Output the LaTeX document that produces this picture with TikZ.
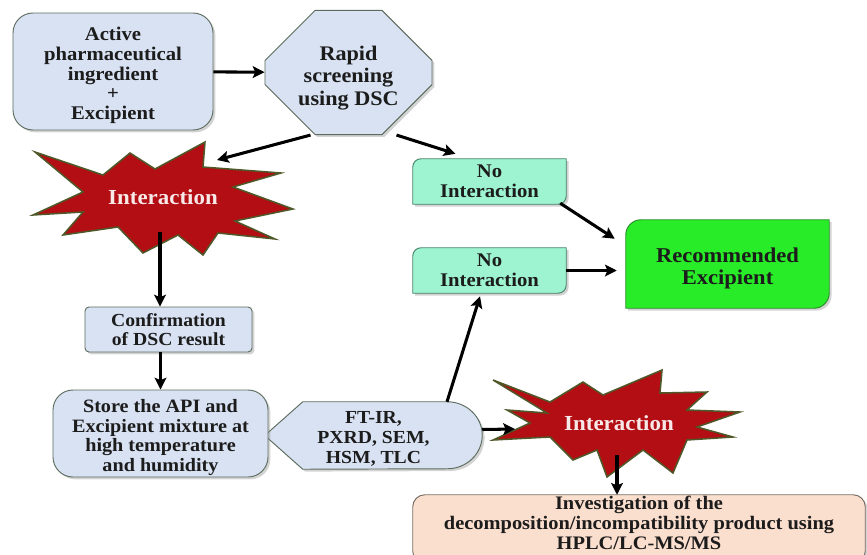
\documentclass[tikz,border=0pt]{standalone}
\usepackage{fontspec}
\setmainfont{Liberation Serif}[FakeStretch=1.07]
\usetikzlibrary{shapes.misc,shadows,backgrounds,arrows.meta,calc}

\definecolor{boxblue}{RGB}{216,226,242}
\definecolor{boxline}{RGB}{92,108,94}
\definecolor{aqua}{RGB}{158,243,208}
\definecolor{aqualine}{RGB}{70,130,105}
\definecolor{brightgreen}{RGB}{40,236,40}
\definecolor{greenline}{RGB}{40,140,40}
\definecolor{peach}{RGB}{250,222,206}
\definecolor{peachline}{RGB}{120,110,100}
\definecolor{burstred}{RGB}{178,14,20}
\definecolor{burstline}{RGB}{78,88,40}
\definecolor{bursttext}{RGB}{248,232,232}
\definecolor{inktext}{RGB}{28,28,28}

\newcommand\fsz[2]{\bfseries\fontsize{#1}{#2}\selectfont}
\newcommand\topstrut[1]{\rule{0pt}{#1}}

% box with two rounded corners (top left, bottom right)
\newcommand\cornerbox[3]{%
	\begin{pgfonlayer}{background}
		\filldraw[#3] ([yshift=-#2]#1.north west) arc[start angle=180,end angle=90,radius=#2]
			-- (#1.north east) -- ([yshift=#2]#1.south east)
			arc[start angle=0,end angle=-90,radius=#2] -- (#1.south west) -- cycle;
	\end{pgfonlayer}}

\tikzset{
	shade/.style={drop shadow={shadow xshift=2pt,shadow yshift=-2pt,opacity=0.35}},
	bluebox/.style={draw=boxline, fill=boxblue, line width=0.8pt, shade, inner sep=0, align=center, text=inktext},
	plainbox/.style={inner sep=0, align=center, text=inktext},
	burstword/.style={inner sep=0, text=bursttext, font=\fsz{18.3}{20}},
	burstfill/.style={fill=burstred, draw=burstline, line width=1.3pt, line join=miter},
	arr/.style={-{Stealth[length=10pt,width=10pt,inset=2pt]}, line width=2.6pt}
}

\begin{document}
\begin{tikzpicture}[x=0.03cm,y=-0.03cm]
	\useasboundingbox (0,0) rectangle (867,554);

	\node[bluebox, rounded corners=0.6cm, minimum width=6cm, minimum height=3.51cm, font=\fsz{16.5}{16.8}] (api) at (113,71.5) {\topstrut{18.5pt}Active\\pharmaceutical\\ingredient\\+\\Excipient};
	\node[bluebox, chamfered rectangle, chamfered rectangle xsep=0.75cm, chamfered rectangle ysep=0.75cm,
		minimum width=5.01cm, minimum height=2.85cm, font=\fsz{17.7}{19.2}] (oct) at (348.5,72.5) {\topstrut{21pt}Rapid\\screening\\using DSC};

	% first starburst
	\node[burstword] (int1) at (163,197) {Interaction};
	\begin{pgfonlayer}{background}
		\filldraw[burstfill, shift={(int1.center)}] (-128,-45) -- (-60,-22) -- (-33,-44) -- (-8,-28) -- (42,-55) -- (40,-30)
			-- (118,-24) -- (70,-10) -- (130,12) -- (72,24) -- (112,42) -- (55,36) -- (40,58) -- (15,38)
			-- (-20,56) -- (-45,30) -- (-100,38) -- (-80,15) -- (-130,18) -- (-80,-5) -- cycle;
	\end{pgfonlayer}

	\node[plainbox, minimum width=4.59cm, minimum height=1.35cm, font=\fsz{16.5}{17}] (ni1) at (489.5,181.5) {No\\Interaction};
	\cornerbox{ni1}{7pt}{fill=aqua, draw=aqualine, line width=0.8pt, shade}
	\node[plainbox, minimum width=4.59cm, minimum height=1.35cm, font=\fsz{16.5}{17}] (ni2) at (489.5,270.5) {No\\Interaction};
	\cornerbox{ni2}{7pt}{fill=aqua, draw=aqualine, line width=0.8pt, shade}
	\node[plainbox, minimum width=6.09cm, minimum height=2.64cm, font=\fsz{18}{18.7}] (rec) at (727.5,264) {\topstrut{19.5pt}Recommended\\Excipient};
	\cornerbox{rec}{13pt}{fill=brightgreen, draw=greenline, line width=0.8pt, shade}

	\node[bluebox, rounded corners=0.12cm, minimum width=5.01cm, minimum height=1.35cm, font=\fsz{15.7}{16.2}] (conf) at (168.5,329.5) {Confirmation\\of DSC result};
	\node[bluebox, rounded corners=0.6cm, minimum width=6.45cm, minimum height=2.61cm, font=\fsz{16.1}{16.8}] (store) at (160.5,433.5) {\topstrut{18pt}Store the API and\\Excipient mixture at\\high temperature\\and humidity};

	\node[plainbox, minimum width=6.51cm, minimum height=2.01cm, font=\fsz{15.7}{17}] (tech) at (373.5,435.5) {\topstrut{16pt}FT-IR,\\PXRD, SEM,\\HSM, TLC};
	\begin{pgfonlayer}{background}
		\filldraw[fill=boxblue, draw=boxline, line width=0.8pt, shade] (tech.west) -- ([xshift=1.14cm]tech.north west)
			-- ([xshift=-1.05cm]tech.north east) arc[start angle=90,end angle=-90,x radius=1.05cm,y radius=1.005cm]
			-- ([xshift=1.14cm]tech.south west) -- cycle;
	\end{pgfonlayer}

	% second starburst
	\node[burstword] (int2) at (619,423) {Interaction};
	\begin{pgfonlayer}{background}
		\filldraw[burstfill, shift={(int2.center)}] (-126,-43) -- (-69,-21) -- (-36,-41) -- (-16,-28) -- (43,-53) -- (41,-30)
			-- (88,-31) -- (68,-13) -- (121,-11) -- (78,4) -- (114,14) -- (68,17) -- (54,50) -- (24,27)
			-- (-12,54) -- (-22,27) -- (-46,37) -- (-69,14) -- (-126,17) -- (-89,0) -- (-112,-13) -- (-72,-10) -- cycle;
	\end{pgfonlayer}

	\node[plainbox, minimum width=13.56cm, minimum height=1.8cm, font=\fsz{16.3}{16.8}] (inv) at (639,523) {Investigation of the\\decomposition/incompatibility product using\\HPLC/LC-MS/MS};
	\coordinate (invtop) at ($(inv.north)+(0,2)$);
	\begin{pgfonlayer}{background}
		\filldraw[fill=peach, draw=peachline, line width=0.8pt, rounded corners=0.36cm, shade] ($(inv.south west)+(0,10)$) rectangle ($(inv.north east)+(0,2)$);
	\end{pgfonlayer}

	% connectors
	\draw[arr] (api) -- (oct);
	\draw[arr] ($(oct.south)+(-38,0)$) -- ($(int1.center)+(54,-37)$);
	\draw[arr] ($(oct.south)+(48,0)$) -- ($(ni1.north)+(-34,-5)$);
	\draw[arr] ($(ni1.south east)+(-6,-1)$) -- ($(rec.north west)+(-11,19)$);
	\draw[arr] (ni2.east) -- ($(ni2.east -| rec.west)+(-9,0)$);

	\coordinate (int1foot) at ($(int1.center)+(-3,35)$);
	\draw[arr] (int1foot) -- (int1foot |- conf.north);
	\draw[arr] (store.north |- conf.south) -- (store.north);

	\draw[arr] ($(tech.north)+(73.5,0)$) -- ($(ni2.south)+(-9.5,3)$);
	\draw[arr] ($(tech.east)+(0,-6)$) -- ($(int2.center)+(-104,6)$);
	\coordinate (int2foot) at ($(int2.center)+(-2,32)$);
	\draw[arr] (int2foot) -- (int2foot |- invtop);
\end{tikzpicture}
\end{document}
